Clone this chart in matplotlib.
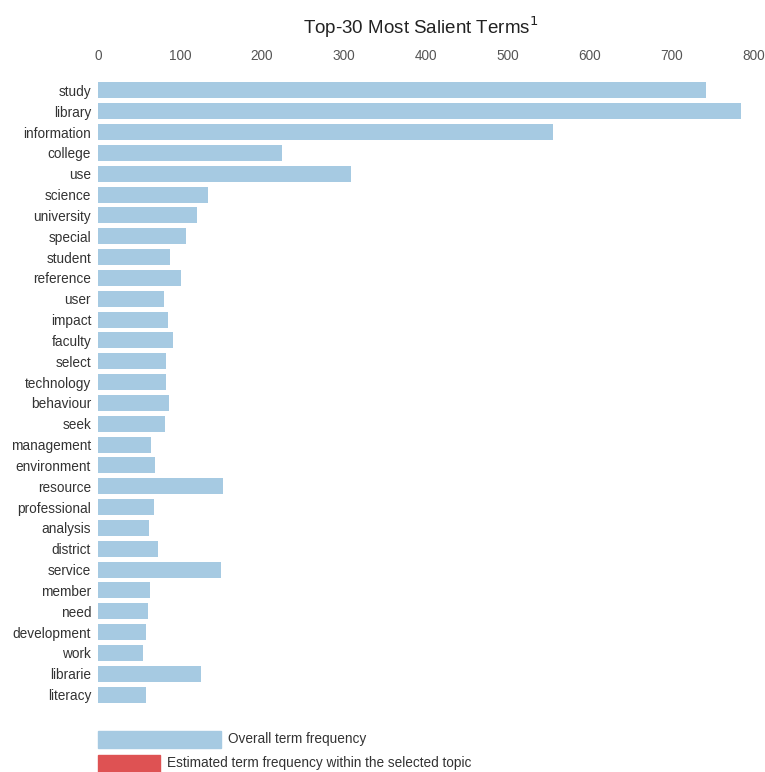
import matplotlib.pyplot as plt
from matplotlib.patches import Rectangle

plt.rcParams['font.family'] = ['Liberation Sans', 'DejaVu Sans']

terms = ['study', 'library', 'information', 'college', 'use', 'science',
         'university', 'special', 'student', 'reference', 'user', 'impact',
         'faculty', 'select', 'technology', 'behaviour', 'seek', 'management',
         'environment', 'resource', 'professional', 'analysis', 'district',
         'service', 'member', 'need', 'development', 'work', 'librarie',
         'literacy']
freq = [741, 784, 555, 224, 309, 134, 121, 107, 88, 101, 81, 85, 92, 83, 83,
        87, 82, 65, 70, 152, 68, 62, 73, 150, 63, 61, 58, 55, 126, 59]
xticks = [0, 100, 200, 300, 400, 500, 600, 700, 800]

blue = '#a6cae2'
red = '#de5253'

fig = plt.figure(figsize=(7.65, 7.72), dpi=100)
ax = fig.add_axes([98 / 765, 1 - 705 / 772, 656 / 765, 625 / 772])

ax.barh(range(len(terms)), freq, height=0.77, color=blue)
ax.set_xlim(0, 800)
ax.set_ylim(len(terms) - 0.5, -0.5)
ax.set_yticks(range(len(terms)))
ax.set_yticklabels(terms, fontsize=9.8, color='#333333')
ax.set_xticks(xticks)
ax.set_xticklabels([str(t) for t in xticks], fontsize=9.8, color='#555555')
ax.xaxis.tick_top()
ax.tick_params(axis='both', length=0)
ax.tick_params(axis='x', pad=12)
ax.tick_params(axis='y', pad=5)
for s in ax.spines.values():
    s.set_visible(False)

fig.text(421 / 765, 1 - 27 / 772, 'Top-30 Most Salient Terms$^1$',
         ha='center', va='center', fontsize=13.5, color='#222222')

# legend boxes below the bars
tr = ax.get_xaxis_transform()
ax.add_patch(Rectangle((0, -26 / 625), 150, -17 / 625, transform=tr,
                       color=blue, clip_on=False))
ax.add_patch(Rectangle((0, -50 / 625), 75, -17 / 625, transform=tr,
                       color=red, clip_on=False))
ax.text(159, -34.5 / 625, 'Overall term frequency', transform=tr,
        va='center', fontsize=9.8, color='#333333')
ax.text(84, -58.5 / 625, 'Estimated term frequency within the selected topic',
        transform=tr, va='center', fontsize=9.8, color='#333333')

fig.savefig('out.png', dpi=100)
